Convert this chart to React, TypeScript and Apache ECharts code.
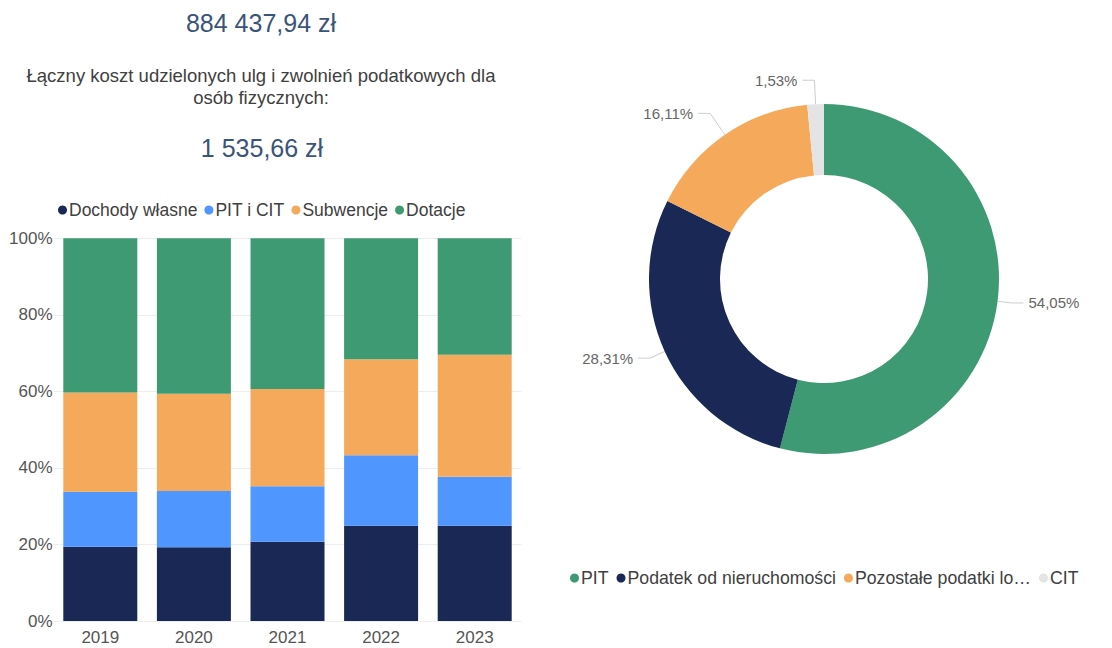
import React, { useEffect, useRef } from "react";
import * as echarts from "echarts";

const years = ["2019", "2020", "2021", "2022", "2023"];
const dochodyWlasne = [19.4, 19.3, 20.7, 24.9, 24.9];
const pitCit = [14.4, 14.7, 14.5, 18.4, 12.8];
const subwencje = [25.9, 25.4, 25.4, 25.1, 31.9];
const dotacje = [40.3, 40.6, 39.4, 31.6, 30.4];

const pieNames = ["PIT", "Podatek od nieruchomości", "Pozostałe podatki lokalne", "CIT"];
const pieValues = [54.05, 28.31, 16.11, 1.53];

const headline1 = "884 437,94 zł";
const subtitle = "Łączny koszt udzielonych ulg i zwolnień podatkowych dla\nosób fizycznych:";
const headline2 = "1 535,66 zł";

const NAVY = "#1a2855";
const BLUE = "#4f96ff";
const ORANGE = "#f5a95a";
const GREEN = "#3e9a73";
const GREY = "#e4e4e4";
const FONT = "'Liberation Sans', Arial, sans-serif";

export default function App() {
  const ref = useRef<HTMLDivElement>(null);
  useEffect(() => {
    if (!ref.current) return;
    const chart = echarts.init(ref.current, undefined, { renderer: "svg" });
    const barSeries = [
      { name: "Dochody własne", data: dochodyWlasne, color: NAVY },
      { name: "PIT i CIT", data: pitCit, color: BLUE },
      { name: "Subwencje", data: subwencje, color: ORANGE },
      { name: "Dotacje", data: dotacje, color: GREEN },
    ].map((s) => ({
      name: s.name,
      type: "bar",
      stack: "total",
      data: s.data,
      barWidth: 74,
      itemStyle: { color: s.color },
      xAxisIndex: 0,
      yAxisIndex: 0,
    }));
    const lineLens = [
      [14, 12],
      [16, 12],
      [26, 12],
      [24, 12],
    ];
    chart.setOption({
      animation: false,
      textStyle: { fontFamily: FONT },
      graphic: [
        {
          type: "text",
          x: 261,
          y: 23,
          style: {
            text: headline1,
            fill: "#3a5478",
            font: `25px ${FONT}`,
            align: "center",
            verticalAlign: "middle",
          },
        },
        {
          type: "text",
          x: 261,
          y: 86,
          style: {
            text: subtitle,
            fill: "#404040",
            font: `18.5px ${FONT}`,
            lineHeight: 22,
            align: "center",
            verticalAlign: "middle",
          },
        },
        {
          type: "text",
          x: 262,
          y: 148,
          style: {
            text: headline2,
            fill: "#3a5478",
            font: `25px ${FONT}`,
            align: "center",
            verticalAlign: "middle",
          },
        },
      ],
      legend: [
        {
          data: barSeries.map((s) => s.name),
          left: 53,
          top: 196,
          icon: "circle",
          itemWidth: 9,
          itemHeight: 9,
          itemGap: 7,
          textStyle: { fontSize: 17.5, color: "#404040", padding: [0, 0, 0, -3] },
        },
        {
          data: pieNames,
          left: 565,
          top: 564,
          icon: "circle",
          itemWidth: 9,
          itemHeight: 9,
          itemGap: 8,
          formatter: (n: string) => (n.length > 24 ? n.slice(0, 20) + "…" : n),
          textStyle: { fontSize: 17.7, color: "#404040", padding: [0, 0, 0, -3] },
        },
      ],
      grid: { left: 53.5, top: 238.3, width: 468, bottom: 27, containLabel: false },
      xAxis: {
        type: "category",
        data: years,
        axisLine: { show: false },
        axisTick: { show: false },
        axisLabel: { fontSize: 17, color: "#555", margin: 8 },
      },
      yAxis: {
        type: "value",
        min: 0,
        max: 100,
        interval: 20,
        axisLabel: { formatter: "{value}%", fontSize: 17, color: "#555", margin: 1 },
        splitLine: { lineStyle: { color: "#eeeeee" } },
      },
      series: [
        ...barSeries,
        {
          type: "pie",
          center: [824, 279],
          radius: [104, 175],
          startAngle: 90,
          clockwise: true,
          data: pieNames.map((n, i) => ({
            name: n,
            value: pieValues[i],
            itemStyle: { color: [GREEN, NAVY, ORANGE, GREY][i] },
            labelLine: { length: lineLens[i][0], length2: lineLens[i][1] },
          })),
          label: {
            show: true,
            formatter: (p: any) => p.value.toFixed(2).replace(".", ",") + "%",
            fontSize: 15,
            color: "#666",
          },
          labelLine: { length: 20, length2: 12, lineStyle: { color: "#cccccc", width: 1 } },
        },
      ],
    });
    return () => chart.dispose();
  }, []);
  return (
    <div
      ref={ref}
      style={{ position: "fixed", left: 0, top: 0, width: 1112, height: 648, background: "#fff" }}
    />
  );
}
